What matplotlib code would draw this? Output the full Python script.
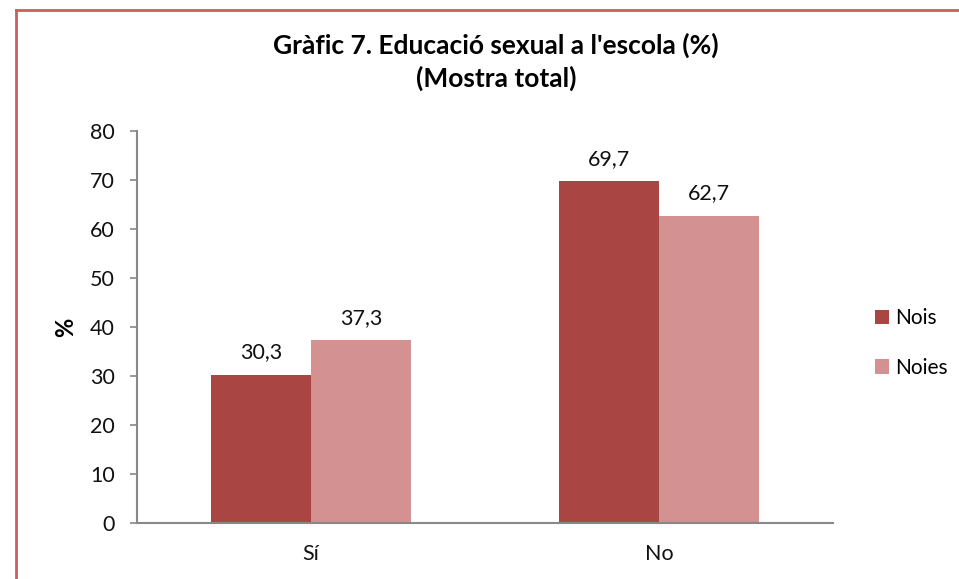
import matplotlib
matplotlib.use("Agg")
import matplotlib.pyplot as plt
from matplotlib.lines import Line2D
import numpy as np

categories = ["Sí", "No"]
series_names = ["Nois", "Noies"]
nois = [30.3, 69.7]
noies = [37.3, 62.7]
yticks = [0, 10, 20, 30, 40, 50, 60, 70, 80]

plt.rcParams['font.family'] = ['Lato', 'DejaVu Sans']

W, H = 959, 579
fig = plt.figure(figsize=(W/100, H/100), dpi=100)
ax = fig.add_axes([137/W, 1-523/H, (833-137)/W, (523-131)/H])

x = np.arange(len(categories))
bw = 0.287
c1, c2 = "#A94644", "#D39291"
b1 = ax.bar(x - bw/2, nois, bw, color=c1, label=series_names[0])
b2 = ax.bar(x + bw/2, noies, bw, color=c2, label=series_names[1])

for bars, vals in ((b1, nois), (b2, noies)):
    for r, v in zip(bars, vals):
        ax.annotate(f"{v:.1f}".replace(".", ","), (r.get_x()+r.get_width()/2, v),
                    xytext=(0, 9), textcoords="offset points", ha="center", va="bottom",
                    fontsize=15.5, color="#111111")

ax.set_xlim(-0.5, 1.5)
ax.set_ylim(0, 80)
ax.set_yticks(yticks)
ax.set_xticks(x)
ax.set_xticklabels(categories)
ax.tick_params(axis='y', direction='out', length=5, width=1.2, color="#888888", labelsize=15.5, pad=11, labelcolor="#111111")
ax.tick_params(axis='x', length=0, labelsize=15.5, pad=15, labelcolor="#111111")
for s in ("top", "right"):
    ax.spines[s].set_visible(False)
for s in ("left", "bottom"):
    ax.spines[s].set_color("#888888")
    ax.spines[s].set_linewidth(1.5)

ax.set_ylabel("%", fontsize=17, fontweight="bold", labelpad=9)

fig.text(496/W, 1-62/H, "Gràfic 7. Educació sexual a l'escola (%)\n(Mostra total)",
         ha="center", va="center", fontsize=19, fontweight="bold", linespacing=1.35)

ax.legend(loc="center left", bbox_to_anchor=(856/W, 1-343/H), bbox_transform=fig.transFigure,
          frameon=False, fontsize=15, handlelength=0.7, handleheight=0.7, handletextpad=0.3,
          labelspacing=1.4)

border = "#C9605C"
fig.add_artist(Line2D([16/W, 16/W], [0, 1-10/H], transform=fig.transFigure, color=border, lw=2))
fig.add_artist(Line2D([16/W, 1], [1-10/H, 1-10/H], transform=fig.transFigure, color=border, lw=2))

fig.savefig("out.png", dpi=100)
